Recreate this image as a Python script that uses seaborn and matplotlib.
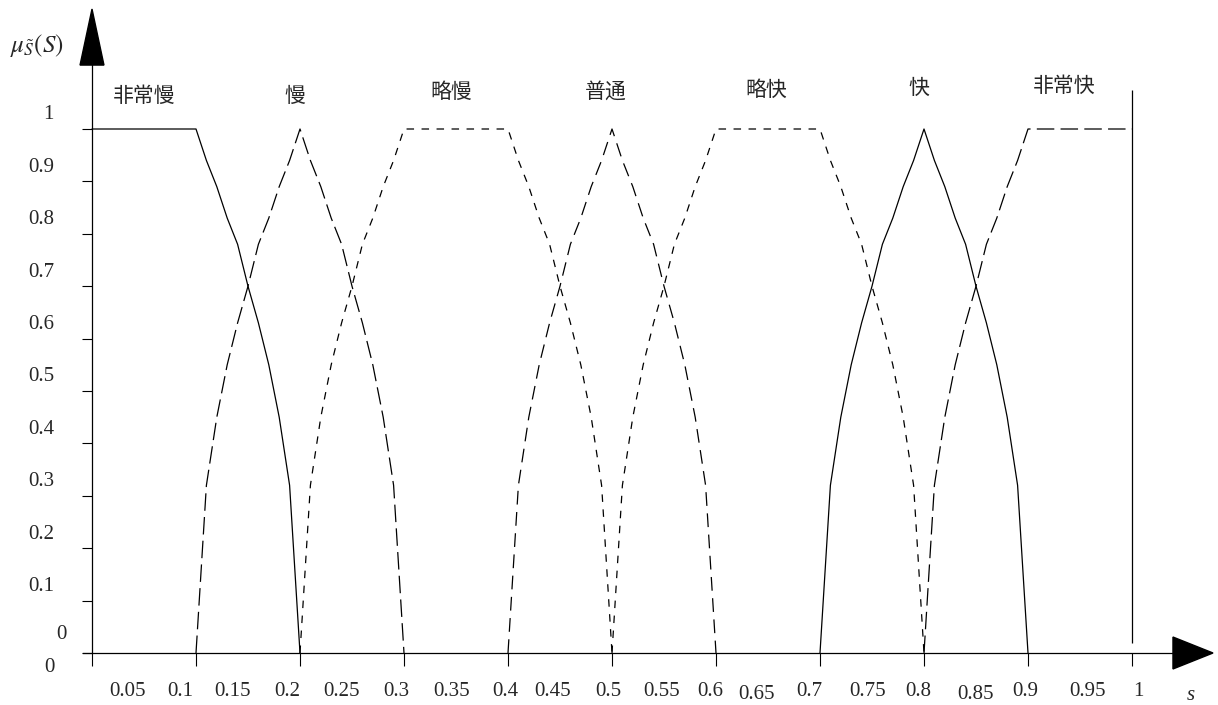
import numpy as np
import pandas as pd
import matplotlib
matplotlib.use('Agg')
import matplotlib.pyplot as plt
import seaborn as sns
from matplotlib.patches import Polygon

# membership functions (value every 0.01)
names = ['非常慢', '慢', '略慢', '普通', '略快', '快', '非常快']

s_vslow = [0.00, 0.10, 0.11, 0.12, 0.13, 0.14, 0.15, 0.16, 0.17, 0.18, 0.19, 0.20]
mu_vslow = [1, 1, 0.94, 0.89, 0.83, 0.78, 0.70, 0.63, 0.55, 0.45, 0.32, 0]

s_slow = [0.10, 0.11, 0.12, 0.13, 0.14, 0.15, 0.16, 0.17, 0.18, 0.19, 0.20,
          0.21, 0.22, 0.23, 0.24, 0.25, 0.26, 0.27, 0.28, 0.29, 0.30]
mu_slow = [0, 0.32, 0.45, 0.55, 0.63, 0.70, 0.78, 0.83, 0.89, 0.94, 1,
           0.94, 0.89, 0.83, 0.78, 0.70, 0.63, 0.55, 0.45, 0.32, 0]

s_sslow = [0.20, 0.21, 0.22, 0.23, 0.24, 0.25, 0.26, 0.27, 0.28, 0.29, 0.30,
           0.40, 0.41, 0.42, 0.43, 0.44, 0.45, 0.46, 0.47, 0.48, 0.49, 0.50]
mu_sslow = [0, 0.32, 0.45, 0.55, 0.63, 0.70, 0.78, 0.83, 0.89, 0.94, 1,
            1, 0.94, 0.89, 0.83, 0.78, 0.70, 0.63, 0.55, 0.45, 0.32, 0]

s_normal = [0.40, 0.41, 0.42, 0.43, 0.44, 0.45, 0.46, 0.47, 0.48, 0.49, 0.50,
            0.51, 0.52, 0.53, 0.54, 0.55, 0.56, 0.57, 0.58, 0.59, 0.60]
mu_normal = [0, 0.32, 0.45, 0.55, 0.63, 0.70, 0.78, 0.83, 0.89, 0.94, 1,
             0.94, 0.89, 0.83, 0.78, 0.70, 0.63, 0.55, 0.45, 0.32, 0]

s_sfast = [0.50, 0.51, 0.52, 0.53, 0.54, 0.55, 0.56, 0.57, 0.58, 0.59, 0.60,
           0.70, 0.71, 0.72, 0.73, 0.74, 0.75, 0.76, 0.77, 0.78, 0.79, 0.80]
mu_sfast = [0, 0.32, 0.45, 0.55, 0.63, 0.70, 0.78, 0.83, 0.89, 0.94, 1,
            1, 0.94, 0.89, 0.83, 0.78, 0.70, 0.63, 0.55, 0.45, 0.32, 0]

s_fast = [0.70, 0.71, 0.72, 0.73, 0.74, 0.75, 0.76, 0.77, 0.78, 0.79, 0.80,
          0.81, 0.82, 0.83, 0.84, 0.85, 0.86, 0.87, 0.88, 0.89, 0.90]
mu_fast = [0, 0.32, 0.45, 0.55, 0.63, 0.70, 0.78, 0.83, 0.89, 0.94, 1,
           0.94, 0.89, 0.83, 0.78, 0.70, 0.63, 0.55, 0.45, 0.32, 0]

s_vfast = [0.80, 0.81, 0.82, 0.83, 0.84, 0.85, 0.86, 0.87, 0.88, 0.89, 0.90, 1.00]
mu_vfast = [0, 0.32, 0.45, 0.55, 0.63, 0.70, 0.78, 0.83, 0.89, 0.94, 1, 1]

# label positions of the term names (s, mu)
name_s = [0.050, 0.195, 0.345, 0.494, 0.648, 0.795, 0.935]
name_mu = [1.063, 1.063, 1.070, 1.072, 1.075, 1.078, 1.082]

x_ticks = [0, 0.1, 0.2, 0.3, 0.4, 0.5, 0.6, 0.7, 0.8, 0.9, 1.0]
y_ticks = [0, 0.1, 0.2, 0.3, 0.4, 0.5, 0.6, 0.7, 0.8, 0.9, 1.0]
x_labels = ['0.05', '0.1', '0.15', '0.2', '0.25', '0.3', '0.35', '0.4', '0.45', '0.5',
            '0.55', '0.6', '0.65', '0.7', '0.75', '0.8', '0.85', '0.9', '0.95', '1']
x_label_pos = [0.034, 0.085, 0.135, 0.188, 0.240, 0.293, 0.346, 0.397, 0.443, 0.496,
               0.548, 0.594, 0.639, 0.690, 0.746, 0.794, 0.850, 0.897, 0.957, 1.006]
y_labels = ['1', '0.9', '0.8', '0.7', '0.6', '0.5', '0.4', '0.3', '0.2', '0.1']

frames = []
for n, s, m in zip(names,
                   [s_vslow, s_slow, s_sslow, s_normal, s_sfast, s_fast, s_vfast],
                   [mu_vslow, mu_slow, mu_sslow, mu_normal, mu_sfast, mu_fast, mu_vfast]):
    frames.append(pd.DataFrame({'s': s, 'mu': m, 'term': n}))
df = pd.concat(frames, ignore_index=True)

sns.set_style('white')
plt.rcParams['font.family'] = ['Liberation Serif', 'Noto Sans CJK SC']
plt.rcParams['mathtext.fontset'] = 'stix'

fig = plt.figure(figsize=(12.18, 7.05), dpi=100)
ax = fig.add_axes([0, 0, 1, 1])

dash_map = {'非常慢': '', '慢': (14, 5), '略慢': (6, 6), '普通': (11, 6),
            '略快': (6, 6), '快': '', '非常快': (14, 5)}
sns.lineplot(data=df, x='s', y='mu', hue='term', style='term',
             palette={n: 'black' for n in names}, dashes=dash_map,
             estimator=None, sort=False, linewidth=0.9, legend=False, ax=ax)

# right boundary line at s = 1
ax.vlines(1.0, 0.019, 1.074, color='black', linewidth=0.9)

ax.set_xlim(-92 / 1040, 1126 / 1040)
ax.set_ylim(-52 / 524, 653 / 524)

for side in ['top', 'right']:
    ax.spines[side].set_visible(False)
ax.spines['left'].set_position(('data', 0))
ax.spines['bottom'].set_position(('data', 0))
ax.spines['left'].set_bounds(0, 1.122)
ax.spines['bottom'].set_bounds(-0.009, 1.04)
for side in ['left', 'bottom']:
    ax.spines[side].set_color('black')
    ax.spines[side].set_linewidth(0.9)

ax.set_xticks(x_ticks)
ax.set_yticks(y_ticks)
ax.set_xticklabels([])
ax.set_yticklabels([])
ax.tick_params(axis='x', bottom=True, direction='out', length=9.5, width=0.8, color='black')
ax.tick_params(axis='y', left=True, direction='out', length=7, width=0.8, color='black')
ax.set_xlabel('')
ax.set_ylabel('')

# arrow heads
ax.add_patch(Polygon([[-0.0115, 1.122], [0.0115, 1.122], [0, 1.229]],
                     closed=True, color='black', clip_on=False))
ax.add_patch(Polygon([[1.0394, 0.0305], [1.0394, -0.0305], [1.0779, 0]],
                     closed=True, color='black', clip_on=False))

# tick labels
for lab, xp in zip(x_labels, x_label_pos):
    dy = -0.007 if lab in ('0.65', '0.85') else 0
    ax.text(xp, -0.073 + dy, lab, ha='center', va='center', fontsize=15)
for lab, yv in zip(y_labels, y_ticks[::-1]):
    ax.text(-0.0365, yv + 0.027, lab, ha='right', va='center', fontsize=15)
ax.text(-0.024, 0.036, '0', ha='right', va='center', fontsize=15)
ax.text(-0.0356, -0.027, '0', ha='right', va='center', fontsize=15)

ax.text(1.057, -0.082, 's', ha='center', va='center', fontsize=15, style='italic')
ax.text(-0.079, 1.160, r'$\mu_{\tilde{S}}(S)$', ha='left', va='center', fontsize=18)

for n, xs, ys in zip(names, name_s, name_mu):
    ax.text(xs, ys, n, ha='center', va='center', fontsize=15, fontweight='medium',
            family=['Noto Sans CJK SC', 'DejaVu Sans'])

fig.savefig('out.png', dpi=100)
